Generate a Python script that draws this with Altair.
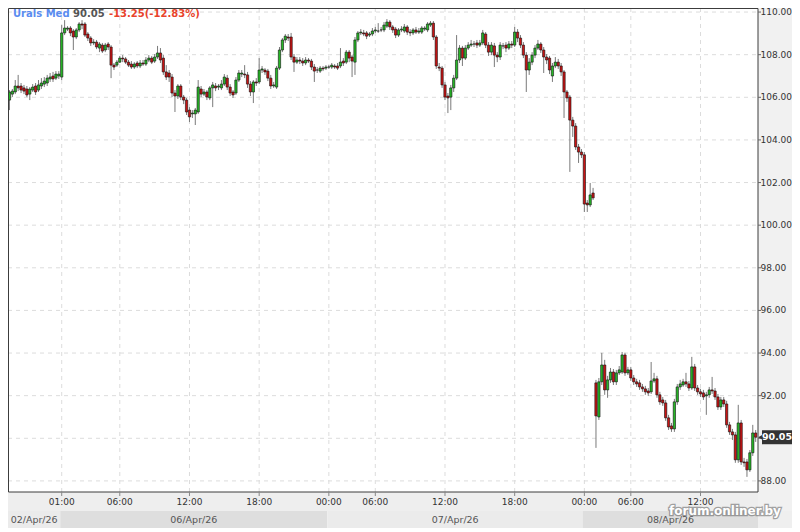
import altair as alt
import pandas as pd

# ---------------- data ----------------
instrument = "Urals Med"
last_text = "90.05"
change_text = "-13.25(-12.83%)"
watermark = "forum.onliner.by"

tick_pos = [18, 38, 62, 86, 110, 126, 150, 174, 198, 214, 238]
tick_labels = ["01:00", "06:00", "12:00", "18:00", "00:00", "06:00",
               "12:00", "18:00", "00:00", "06:00", "12:00"]

date_labels = ["02/Apr/26", "06/Apr/26", "07/Apr/26", "08/Apr/26"]
date_start = [-0.5, 17.5, 109.5, 197.5]
date_end = [17.5, 109.5, 197.5, 257.8]

y_ticks = [88, 90, 92, 94, 96, 98, 100, 102, 104, 106, 108, 110]

opens = [
    105.87, 106.15, 106.25, 106.53, 106.53, 106.44, 106.39, 106.15, 106.34, 106.53,
    106.34, 106.53, 106.62, 106.67, 106.86, 107.00, 106.90, 107.00, 106.95, 109.02,
    109.20, 109.25, 109.11, 108.83, 109.16, 109.44, 109.44, 108.97, 108.78, 108.55,
    108.59, 108.31, 108.45, 108.22, 108.50, 108.36, 107.51, 107.51, 107.65, 107.84,
    107.80, 107.65, 107.56, 107.42, 107.61, 107.47, 107.61, 107.56, 107.75, 107.84,
    107.70, 107.89, 108.08, 107.84, 107.19, 107.14, 106.95, 106.20, 106.06, 106.53,
    106.01, 105.87, 105.40, 105.22, 105.22, 105.31, 106.39, 106.15, 106.25, 105.97,
    106.44, 106.53, 106.48, 106.44, 106.62, 106.90, 106.48, 106.25, 106.20, 106.81,
    107.09, 107.09, 107.05, 106.62, 106.25, 106.72, 106.72, 107.28, 107.28, 107.23,
    106.90, 106.53, 106.48, 107.37, 108.22, 108.69, 108.83, 108.83, 107.89, 107.65,
    107.75, 107.70, 107.61, 107.75, 107.70, 107.42, 107.28, 107.23, 107.37, 107.37,
    107.42, 107.42, 107.47, 107.47, 107.47, 107.70, 107.65, 108.12, 107.89, 107.65,
    108.69, 109.02, 109.02, 109.02, 108.92, 108.97, 109.11, 109.11, 109.16, 109.16,
    109.34, 109.53, 109.30, 109.20, 108.92, 109.16, 109.11, 109.30, 109.06, 109.02,
    109.16, 109.06, 109.06, 109.20, 109.16, 109.39, 109.48, 108.83, 107.42, 107.37,
    106.58, 106.06, 106.01, 106.44, 106.90, 107.75, 108.31, 107.84, 108.31, 108.45,
    108.50, 108.55, 108.45, 108.55, 108.97, 108.45, 108.12, 108.41, 107.98, 107.89,
    108.41, 108.45, 108.31, 108.50, 108.45, 109.06, 108.78, 108.45, 107.98, 107.28,
    107.65, 107.98, 108.31, 108.50, 108.22, 107.89, 107.84, 107.00, 107.47, 107.65,
    107.47, 107.19, 106.25, 106.01, 104.93, 104.65, 103.67, 103.43, 103.30, 101.04,
    100.95, 101.51,
    92.60, 91.00, 92.65, 93.44, 92.27, 92.74, 93.11, 92.65,
    93.07, 93.11, 93.91, 93.07, 93.21, 92.83, 92.65, 92.60, 92.41, 92.32,
    92.22, 92.18, 92.69, 92.79, 92.04, 91.80, 91.66, 90.96, 90.58, 90.44,
    91.71, 92.41, 92.50, 92.65, 92.55, 92.36, 93.35, 92.36, 92.18, 92.13,
    91.99, 92.04, 92.27, 92.22, 91.94, 91.47, 91.80, 91.61, 90.63, 90.30,
    90.16, 88.99, 90.72, 88.89, 88.89, 88.52, 89.32, 90.25,
]

closes = [
    106.25, 106.29, 106.53, 106.44, 106.34, 106.29, 106.11, 106.39, 106.48, 106.25,
    106.58, 106.67, 106.76, 106.90, 106.95, 106.86, 107.09, 107.09, 109.02, 109.25,
    109.25, 109.02, 108.83, 109.16, 109.44, 109.39, 108.92, 108.78, 108.55, 108.59,
    108.36, 108.50, 108.17, 108.45, 108.36, 107.51, 107.42, 107.65, 107.84, 107.80,
    107.65, 107.51, 107.42, 107.56, 107.47, 107.61, 107.56, 107.75, 107.84, 107.65,
    107.89, 108.08, 107.75, 107.19, 106.95, 106.95, 106.20, 106.06, 106.53, 106.01,
    105.87, 105.31, 105.08, 105.26, 105.40, 106.48, 106.15, 106.25, 106.01, 106.44,
    106.58, 106.44, 106.53, 106.62, 106.95, 106.48, 106.20, 106.11, 106.81, 107.14,
    107.14, 107.05, 106.62, 106.25, 106.72, 106.67, 107.28, 107.33, 107.19, 106.90,
    106.53, 106.58, 107.37, 108.22, 108.69, 108.87, 108.78, 107.89, 107.65, 107.75,
    107.70, 107.61, 107.75, 107.70, 107.42, 107.23, 107.28, 107.37, 107.33, 107.42,
    107.42, 107.51, 107.42, 107.37, 107.65, 107.61, 108.12, 107.84, 107.70, 108.69,
    109.02, 109.06, 108.97, 108.87, 108.97, 109.11, 109.16, 109.11, 109.16, 109.39,
    109.53, 109.30, 109.16, 108.92, 109.16, 109.20, 109.30, 109.06, 109.02, 109.16,
    109.06, 109.11, 109.25, 109.25, 109.44, 109.48, 108.83, 107.47, 107.37, 106.58,
    106.01, 105.97, 106.44, 106.90, 107.75, 108.31, 107.84, 108.31, 108.45, 108.50,
    108.50, 108.45, 108.55, 109.02, 108.45, 108.12, 108.45, 107.98, 107.89, 108.45,
    108.41, 108.31, 108.50, 108.45, 109.06, 108.78, 108.45, 107.98, 107.28, 107.65,
    107.98, 108.31, 108.50, 108.22, 107.89, 107.75, 107.28, 107.47, 107.65, 107.47,
    107.19, 106.25, 105.97, 104.93, 104.65, 103.67, 103.43, 103.30, 100.99, 100.95,
    101.42, 101.28,
    91.05, 92.65, 93.44, 92.27, 92.74, 93.11, 92.65, 93.07,
    93.21, 93.91, 93.07, 93.21, 92.83, 92.65, 92.55, 92.41, 92.32, 92.18,
    92.13, 92.69, 92.79, 92.04, 91.71, 91.66, 90.96, 90.53, 90.44, 91.71,
    92.41, 92.55, 92.65, 92.55, 92.36, 93.35, 92.36, 92.18, 92.08, 91.94,
    92.04, 92.27, 92.22, 91.94, 91.47, 91.80, 91.61, 90.63, 90.30, 90.16,
    88.99, 90.72, 88.89, 88.85, 88.52, 89.32, 90.25, 90.05,
]

highs = [
    106.34, 106.39, 106.81, 107.05, 106.67, 106.58, 106.53, 106.48, 106.62, 106.67,
    106.81, 106.90, 106.95, 107.05, 107.14, 107.19, 107.23, 107.23, 109.39, 109.62,
    109.34, 109.34, 109.20, 109.25, 109.53, 109.62, 109.53, 109.06, 108.87, 108.73,
    108.69, 108.59, 108.55, 108.55, 108.59, 108.45, 107.61, 107.75, 107.94, 107.98,
    107.89, 107.75, 107.70, 107.65, 107.70, 107.75, 107.75, 107.89, 107.98, 107.94,
    108.03, 108.41, 108.31, 107.98, 107.51, 107.28, 107.09, 106.34, 106.62, 106.62,
    106.11, 105.97, 105.54, 105.40, 105.50, 106.81, 106.53, 106.39, 106.34, 106.53,
    106.72, 106.67, 106.62, 106.81, 107.09, 107.05, 106.62, 106.34, 106.95, 107.28,
    107.28, 107.51, 107.19, 106.76, 106.81, 106.90, 107.84, 107.47, 107.37, 107.33,
    107.05, 106.72, 107.47, 108.36, 108.78, 108.97, 108.97, 109.02, 108.03, 107.89,
    107.89, 107.84, 107.89, 107.84, 107.80, 107.56, 107.42, 107.47, 107.47, 107.51,
    107.51, 107.61, 107.56, 107.61, 108.31, 107.84, 108.22, 108.22, 107.98, 108.83,
    109.11, 109.20, 109.16, 109.11, 109.06, 109.25, 109.30, 109.48, 109.30, 109.53,
    109.67, 109.62, 109.39, 109.30, 109.25, 109.34, 109.44, 109.39, 109.20, 109.25,
    109.30, 109.25, 109.34, 109.34, 109.53, 109.58, 109.58, 108.92, 107.61, 107.47,
    106.72, 106.20, 106.58, 107.05, 108.92, 108.45, 108.41, 108.45, 108.59, 108.69,
    108.64, 108.69, 108.69, 109.16, 109.06, 108.59, 108.59, 108.55, 108.12, 108.59,
    108.55, 108.59, 108.64, 108.64, 109.30, 109.20, 108.92, 108.59, 108.12, 107.84,
    108.12, 108.45, 108.69, 108.59, 108.36, 108.03, 107.94, 107.61, 107.89, 107.80,
    107.61, 107.28, 106.34, 106.11, 105.08, 104.79, 103.81, 103.57, 103.43, 101.18,
    101.98, 101.75,
    92.74, 92.83, 94.01, 93.68, 92.93, 93.30, 93.25, 93.21,
    93.39, 94.05, 94.01, 93.35, 93.35, 92.97, 92.79, 92.74, 92.55, 92.46,
    92.36, 93.58, 93.07, 92.93, 92.18, 91.94, 91.80, 91.10, 90.72, 91.85,
    92.55, 92.74, 92.79, 93.07, 92.69, 93.82, 93.49, 92.50, 92.32, 92.27,
    92.18, 92.41, 92.88, 92.36, 92.08, 91.94, 91.94, 91.76, 90.77, 90.44,
    90.30, 91.57, 90.86, 89.08, 89.03, 89.45, 90.63, 90.39,
]

lows = [
    105.40, 106.01, 106.15, 106.29, 106.20, 106.15, 106.01, 105.87, 106.25, 106.11,
    106.25, 106.39, 106.48, 106.53, 106.72, 106.72, 106.81, 106.86, 106.81, 108.92,
    109.11, 108.87, 108.22, 108.73, 109.06, 109.20, 108.83, 108.64, 108.41, 108.45,
    108.26, 108.12, 108.08, 108.12, 108.22, 106.90, 107.28, 107.42, 107.61, 107.65,
    107.56, 107.42, 107.33, 107.33, 107.37, 107.37, 107.47, 107.47, 107.65, 107.56,
    107.61, 107.80, 107.61, 107.05, 106.81, 106.72, 106.01, 105.31, 105.92, 105.87,
    105.68, 105.17, 104.84, 105.03, 104.70, 105.22, 106.01, 106.06, 105.87, 105.87,
    105.54, 106.29, 106.34, 106.34, 106.53, 106.34, 106.06, 105.97, 106.11, 106.72,
    106.95, 106.90, 106.44, 106.06, 105.73, 106.53, 106.62, 107.14, 107.05, 106.76,
    106.39, 106.44, 106.39, 107.28, 108.12, 108.55, 108.64, 107.75, 107.19, 107.56,
    107.56, 107.47, 107.51, 107.61, 107.28, 106.72, 107.14, 107.14, 107.23, 107.28,
    107.33, 107.33, 107.33, 107.28, 107.37, 107.47, 107.56, 107.65, 106.95, 107.05,
    108.59, 108.92, 108.87, 108.73, 108.83, 108.87, 109.02, 109.02, 109.06, 109.06,
    109.25, 109.16, 109.02, 108.78, 108.83, 109.06, 109.02, 108.92, 108.87, 108.92,
    108.97, 108.97, 108.97, 109.11, 109.06, 109.30, 108.69, 107.33, 107.23, 106.44,
    105.87, 105.26, 105.40, 106.25, 106.81, 107.61, 107.47, 107.75, 108.22, 108.36,
    108.36, 108.31, 108.36, 108.45, 108.31, 107.94, 107.98, 107.42, 107.65, 107.75,
    108.26, 108.12, 108.22, 108.31, 108.36, 108.59, 108.31, 107.84, 106.25, 107.05,
    107.51, 107.84, 108.22, 108.08, 107.14, 107.56, 107.09, 106.72, 107.37, 107.33,
    107.00, 105.03, 105.78, 102.50, 104.14, 103.53, 102.92, 103.15, 100.62, 100.62,
    100.85, 101.18,
    89.55, 90.86, 92.50, 92.04, 91.90, 92.60, 92.50, 92.50,
    92.97, 93.02, 92.93, 92.97, 92.69, 92.50, 92.41, 92.27, 92.18, 92.04,
    91.99, 92.08, 92.60, 91.90, 91.57, 91.52, 90.82, 90.39, 90.30, 90.30,
    91.57, 92.27, 92.41, 92.41, 92.22, 92.27, 92.22, 92.04, 91.94, 91.80,
    91.10, 91.90, 92.08, 91.80, 91.33, 91.33, 91.47, 90.49, 90.16, 89.92,
    88.85, 88.85, 88.75, 88.66, 88.19, 88.42, 89.17, 89.83,
]

# ---------------- layout & styling ----------------
W, H = 750, 484          # plot area inside the whole chart
R, B = 784, 520          # whole chart size
GREEN, RED = "#27b827", "#c81414"
FONT = "DejaVu Sans"

x_scale = alt.Scale(domain=[-0.5, 257.8], range=[0, W], nice=False, zero=False, padding=0)
y_scale = alt.Scale(domain=[87.48, 110.19], range=[H, 0], nice=False, zero=False, padding=0)

candles = pd.DataFrame({
    "i": list(range(len(closes))),
    "open": opens, "high": highs, "low": lows, "close": closes,
})
yt = pd.DataFrame({"v": y_ticks, "lab": [f"{v:.2f}" for v in y_ticks]})
xt = pd.DataFrame({"p": tick_pos, "lab": tick_labels})
dates = pd.DataFrame({"k": list(range(len(date_labels))), "start": date_start,
                      "end": date_end, "lab": date_labels})
one = pd.DataFrame({"z": [0]})
tag = pd.DataFrame({"p": [closes[-1]], "t": [last_text]})

X = lambda f: alt.X(f, scale=x_scale, axis=None)
Y = lambda f: alt.Y(f, scale=y_scale, axis=None)

# backgrounds outside the plot
time_row = alt.Chart(one).mark_rect(color="#eeeeee").encode(
    x=alt.value(0), x2=alt.value(R), y=alt.value(H), y2=alt.value(H + 19))
right_panel = alt.Chart(one).mark_rect(color="#f1f1f1").encode(
    x=alt.value(W), x2=alt.value(R), y=alt.value(0), y2=alt.value(H + 19))
date_segs = alt.Chart(dates).mark_rect().encode(
    x=X("start:Q"), x2="end:Q", y=alt.value(H + 19), y2=alt.value(B),
    color=alt.condition("datum.k % 2 == 0", alt.value("#ebebeb"), alt.value("#dedede")))
date_right = alt.Chart(one).mark_rect(color="#efefef").encode(
    x=alt.value(W), x2=alt.value(R), y=alt.value(H + 19), y2=alt.value(B))
plot_bg = alt.Chart(one).mark_rect(color="#ffffff").encode(
    x=alt.value(0), x2=alt.value(W), y=alt.value(0), y2=alt.value(H))

# grid
ygrid = alt.Chart(yt).mark_rule(color="#dcdcdc", strokeDash=[4, 4], strokeWidth=1).encode(
    y=Y("v:Q"), x=alt.value(0), x2=alt.value(W))
xgrid = alt.Chart(xt).mark_rule(color="#dcdcdc", strokeDash=[4, 4], strokeWidth=1).encode(
    x=X("p:Q"), y=alt.value(0), y2=alt.value(H))

# candles
wicks = alt.Chart(candles).mark_rule(color="#7a7a7a", strokeWidth=1).encode(
    x=X("i:Q"), y=Y("low:Q"), y2="high:Q")
bodies = alt.Chart(candles).mark_bar(size=2.3, stroke="#111111", strokeWidth=0.6).encode(
    x=X("i:Q"), y=Y("open:Q"), y2="close:Q",
    color=alt.condition("datum.close >= datum.open", alt.value(GREEN), alt.value(RED)))

# plot frame
frame = alt.Chart(one).mark_rect(fillOpacity=0, stroke="#3c3c3c", strokeWidth=1).encode(
    x=alt.value(0.5), x2=alt.value(W), y=alt.value(0.5), y2=alt.value(H))

# right axis (the label under the last-price tag is hidden by it, as in the reference)
ytick_marks = alt.Chart(yt).mark_rule(color="#666666").encode(
    y=Y("v:Q"), x=alt.value(W), x2=alt.value(W + 3))
ylabels = alt.Chart(yt).transform_filter(
    f"abs(datum.v - {closes[-1]}) > 0.4"
).mark_text(align="left", baseline="middle", font=FONT,
            fontSize=9, color="#333333").encode(
    y=Y("v:Q"), x=alt.value(W + 2.5), text="lab:N")

# bottom axis
xtick_marks = alt.Chart(xt).mark_rule(color="#888888").encode(
    x=X("p:Q"), y=alt.value(H), y2=alt.value(H + 4))
xlabels = alt.Chart(xt).mark_text(align="center", baseline="middle", font=FONT,
                                  fontSize=9, color="#333333").encode(
    x=X("p:Q"), y=alt.value(H + 10), text="lab:N")
dlabels = alt.Chart(dates).transform_calculate(mid="(datum.start + datum.end) / 2").mark_text(
    align="center", baseline="middle", font=FONT, fontSize=9.5, color="#555555").encode(
    x=X("mid:Q"), y=alt.value(H + 28), text="lab:N")

# legend
def legend_piece(txt, xpos, col):
    return alt.Chart(pd.DataFrame({"t": [txt]})).mark_text(
        align="left", baseline="middle", font=FONT, fontSize=10, fontWeight="bold",
        color=col).encode(x=alt.value(xpos), y=alt.value(6), text="t:N")

leg1 = legend_piece(instrument, 5, "#5a8cf0")
leg2 = legend_piece(last_text, 65, "#555555")
leg3 = legend_piece(change_text, 101, "#e8432b")

# last price tag
tag_box = alt.Chart(tag).mark_rect(color="#333333", yOffset=-7, y2Offset=7).encode(
    y=Y("p:Q"), y2="p:Q", x=alt.value(W + 4), x2=alt.value(R))
tag_arrow = alt.Chart(tag).mark_point(shape="triangle-left", filled=True, size=40,
                                      color="#333333", opacity=1).encode(
    y=Y("p:Q"), x=alt.value(W + 3))
tag_text = alt.Chart(tag).mark_text(color="white", fontWeight="bold", font=FONT,
                                    fontSize=9.5, align="center", baseline="middle").encode(
    y=Y("p:Q"), x=alt.value(W + 19), text="t:N")

# watermark
wm_df = pd.DataFrame({"t": [watermark]})
wm_shadow = alt.Chart(wm_df).mark_text(font=FONT, fontSize=12, fontWeight="bold",
                                       color="#444444", stroke="#444444", strokeWidth=2.5,
                                       opacity=0.45, align="center", baseline="middle").encode(
    x=alt.value(W - 33), y=alt.value(H + 19), text="t:N")
wm_text = alt.Chart(wm_df).mark_text(font=FONT, fontSize=12, fontWeight="bold",
                                     color="#ffffff", align="center", baseline="middle").encode(
    x=alt.value(W - 33), y=alt.value(H + 19), text="t:N")

chart = alt.layer(
    time_row, right_panel, date_segs, date_right, plot_bg,
    ygrid, xgrid, wicks, bodies, frame,
    ytick_marks, ylabels, xtick_marks, xlabels, dlabels,
    leg1, leg2, leg3,
    tag_box, tag_arrow, tag_text,
    wm_shadow, wm_text,
).properties(
    width=R, height=B,
    padding={"left": 0, "top": 0, "right": 0, "bottom": 0},
    autosize=alt.AutoSizeParams(type="none"),
).configure_view(
    strokeWidth=0
).configure(background="white")

chart.save("out.html", embed_options={"renderer": "svg", "actions": False})
